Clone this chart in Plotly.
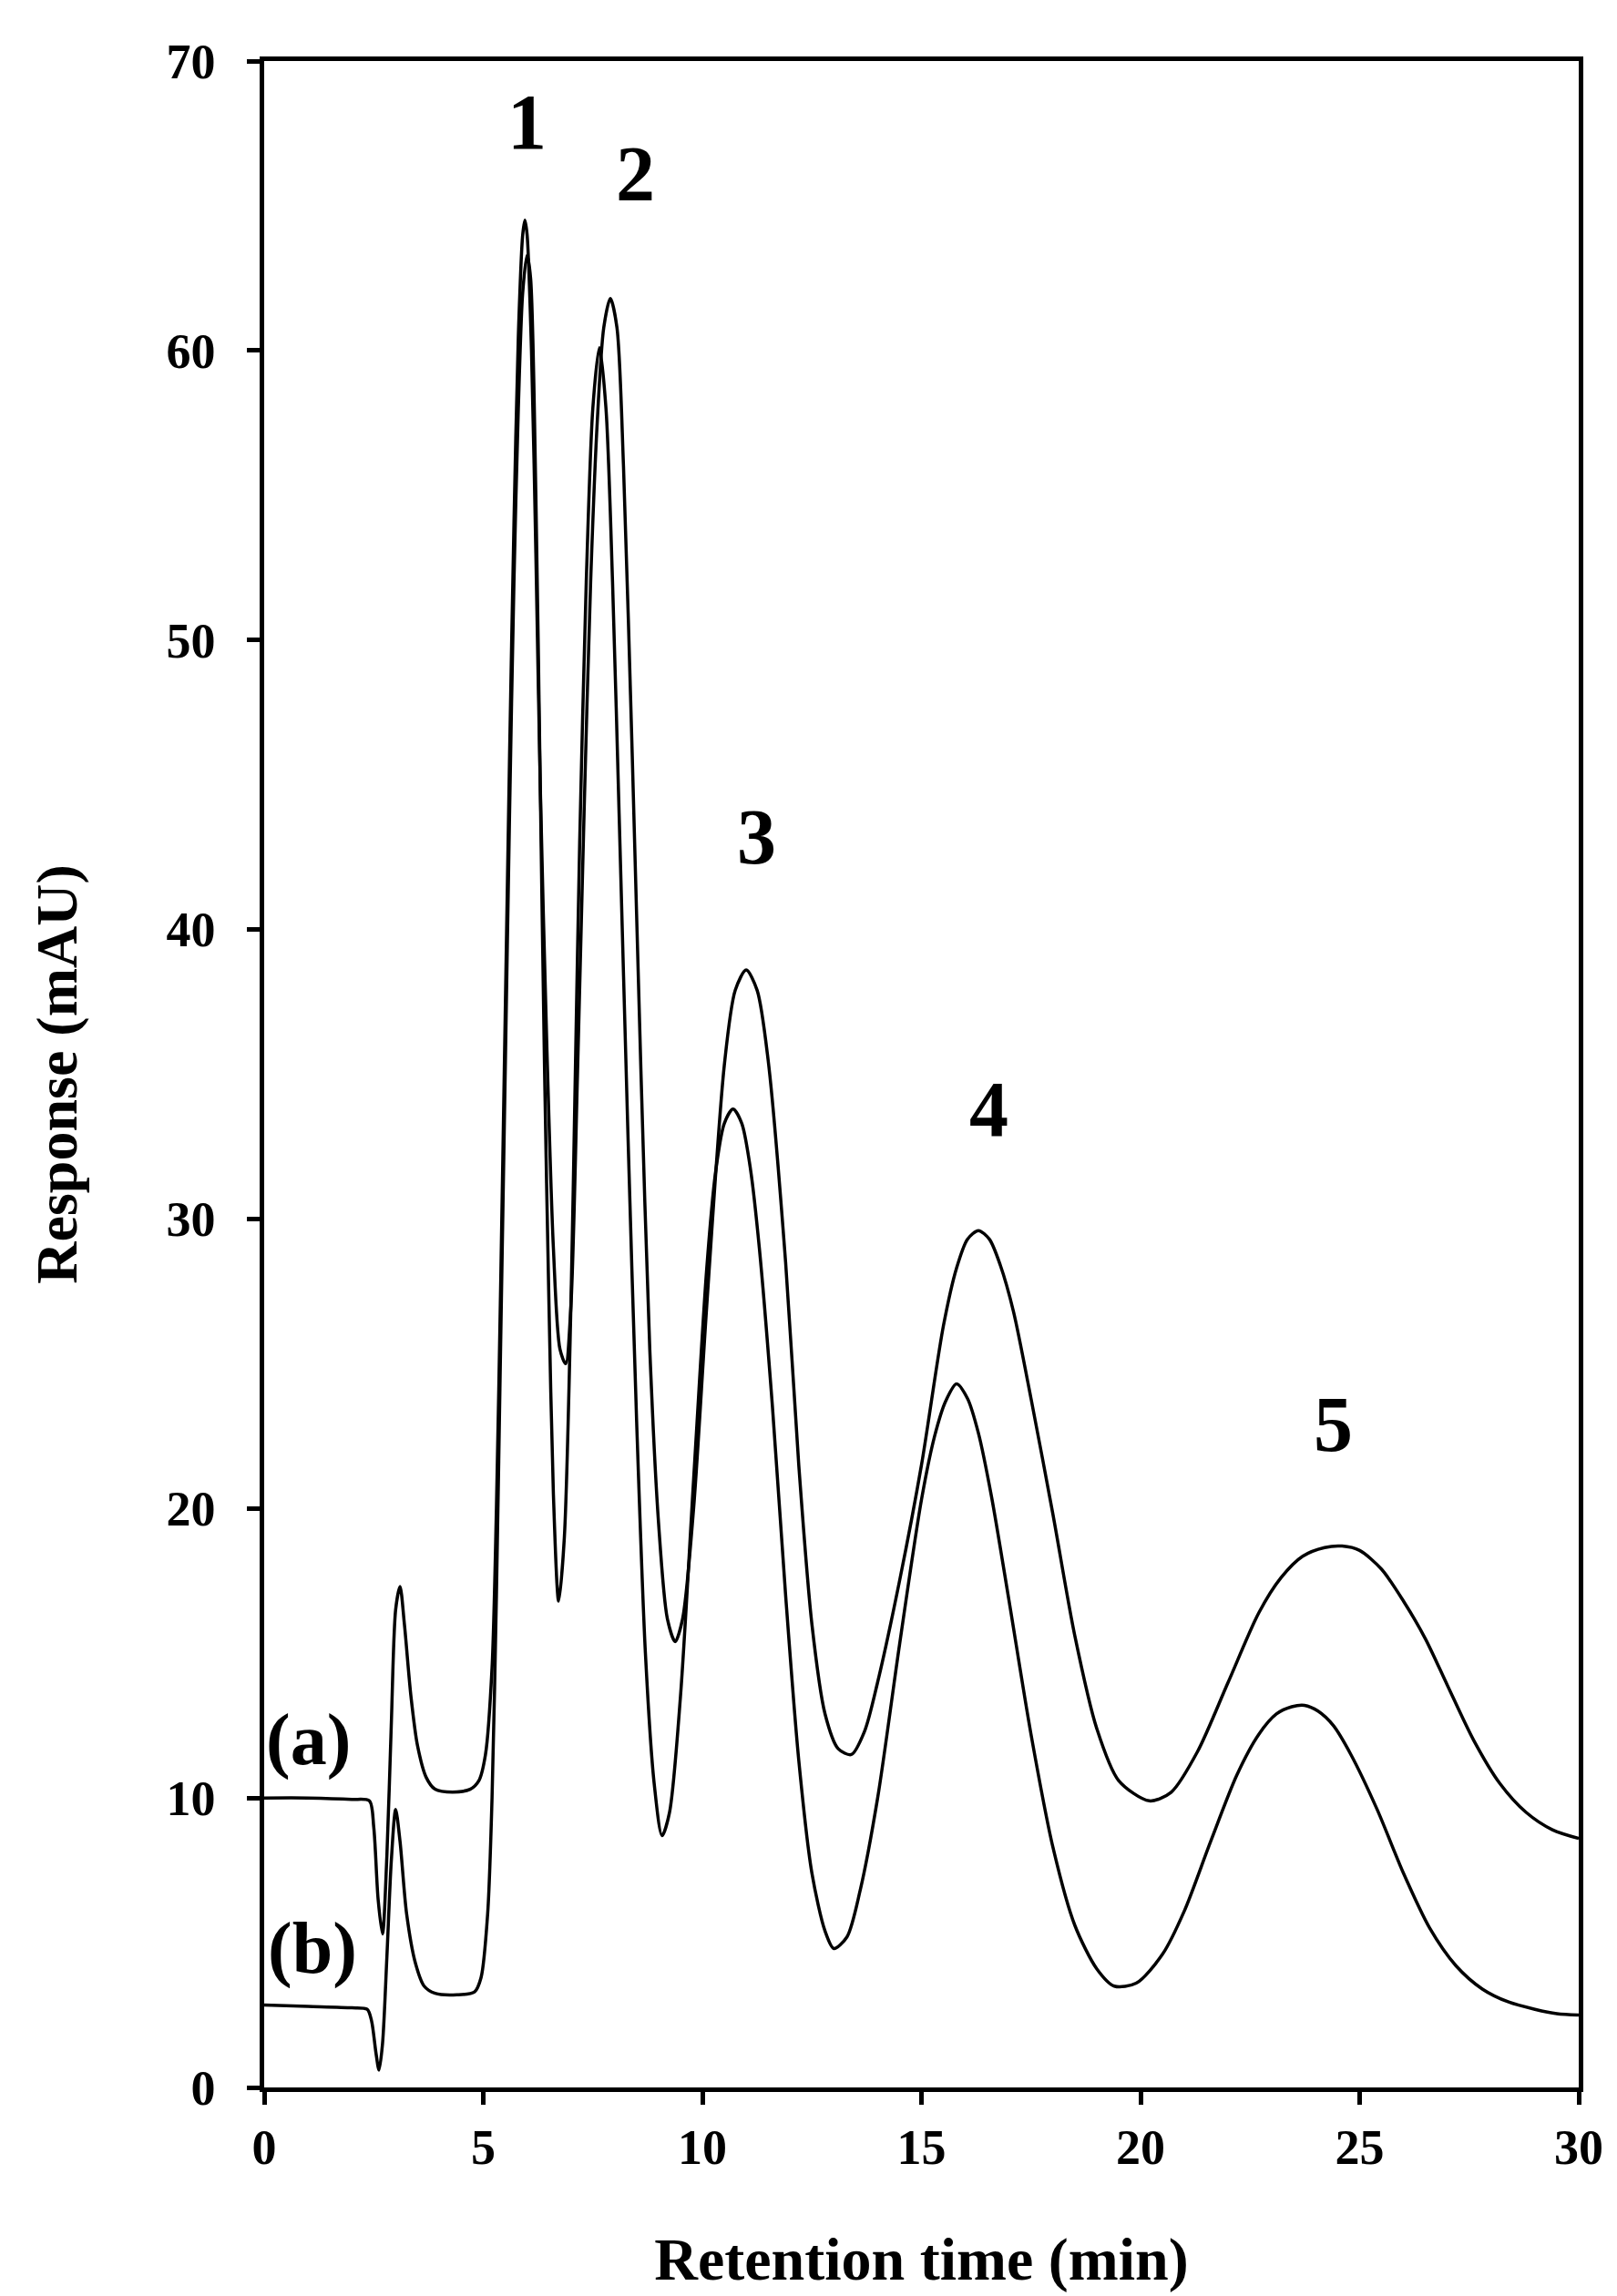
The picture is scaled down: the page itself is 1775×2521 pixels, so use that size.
import plotly.graph_objects as go

# Curve (a)
time_a = [0.0, 1.0, 2.0, 2.4, 2.5, 2.6, 2.7, 2.8, 2.9, 3.0, 3.1, 3.2, 3.35, 3.5, 3.7, 3.9, 4.3, 4.7, 4.9,
          5.05, 5.2, 5.3, 5.4, 5.5, 5.6, 5.7, 5.8, 5.9, 5.95, 6.0, 6.1, 6.2, 6.3, 6.45, 6.6, 6.75, 6.88,
          7.0, 7.15, 7.3, 7.45, 7.6, 7.75, 7.9, 8.05, 8.2, 8.4, 8.6, 8.8, 9.0, 9.2, 9.38, 9.55, 9.8,
          10.1, 10.5, 10.75, 11.0, 11.25, 11.5, 11.9, 12.2, 12.5, 12.8, 13.1, 13.4, 13.7, 14.0, 14.5,
          15.0, 15.5, 15.8, 16.05, 16.3, 16.55, 16.8, 17.1, 17.5, 18.0, 18.5, 19.0, 19.5, 20.2, 20.7,
          21.3, 22.0, 22.7, 23.2, 23.7, 24.2, 24.6, 25.0, 25.5, 26.0, 26.5, 27.0, 27.6, 28.2, 28.8,
          29.4, 30.0]
resp_a = [10.0, 10.0, 9.95, 9.9, 9.0, 6.5, 5.3, 8.0, 12.5, 16.5, 17.3, 16.0, 13.5, 11.8, 10.7, 10.3, 10.2, 10.3, 10.6,
          11.5, 14.5, 20.0, 28.0, 37.0, 46.0, 54.0, 60.5, 64.0, 64.5, 64.0, 60.0, 53.0, 45.0, 36.0, 29.0, 25.5, 25.0,
          27.0, 35.0, 44.0, 52.0, 57.5, 60.8, 61.8, 60.8, 56.0, 46.0, 35.0, 25.5, 19.5, 16.2, 15.4, 16.2, 20.0,
          27.0, 35.3, 37.9, 38.6, 37.9, 35.5, 28.5, 21.5, 16.0, 12.9, 11.7, 11.5, 12.3, 14.0, 17.5,
          21.5, 26.3, 28.3, 29.3, 29.6, 29.3, 28.4, 26.8, 23.8, 19.8, 15.6, 12.4, 10.6, 9.9, 10.2,
          11.6, 14.0, 16.4, 17.6, 18.35, 18.65, 18.7, 18.55, 17.9, 16.8, 15.5, 13.9, 12.0, 10.5, 9.5,
          8.9, 8.6]

# Curve (b)
time_b = [0.0, 1.0, 2.0, 2.35, 2.45, 2.55, 2.62, 2.7, 2.8, 2.9, 3.0, 3.1, 3.25, 3.45, 3.65, 3.9, 4.4, 4.8, 4.95,
          5.1, 5.2, 5.3, 5.4, 5.5, 5.6, 5.7, 5.8, 5.9, 6.0, 6.08, 6.2, 6.3, 6.4, 6.5, 6.6, 6.72, 6.85,
          7.0, 7.1, 7.2, 7.35, 7.5, 7.65, 7.8, 7.95, 8.1, 8.3, 8.5, 8.7, 8.9, 9.08, 9.25, 9.5, 9.8,
          10.1, 10.3, 10.5, 10.7, 10.9, 11.1, 11.3, 11.6, 11.9, 12.2, 12.5, 12.8, 13.0, 13.3, 13.6, 14.0,
          14.5, 15.0, 15.3, 15.55, 15.8, 16.05, 16.3, 16.6, 17.0, 17.5, 18.0, 18.5, 19.0, 19.4, 19.9,
          20.5, 21.0, 21.6, 22.2, 22.7, 23.1, 23.45, 23.74, 24.05, 24.4, 24.8, 25.4, 26.0, 26.6, 27.2,
          27.8, 28.4, 29.0, 29.5, 30.0]
resp_b = [2.85, 2.8, 2.75, 2.7, 2.3, 1.2, 0.6, 1.5, 4.5, 7.8, 9.6, 8.5, 6.0, 4.3, 3.5, 3.25, 3.2, 3.3, 3.8,
          6.0, 10.0, 17.0, 26.0, 35.0, 44.0, 52.0, 58.0, 62.0, 63.3, 62.5, 55.0, 45.0, 35.0, 27.0, 20.5, 16.8, 19.0,
          27.0, 35.0, 43.0, 52.0, 58.0, 60.1, 58.0, 52.0, 44.0, 33.0, 23.0, 15.0, 10.5, 8.7, 9.5, 13.5, 21.0,
          28.3, 31.6, 33.3, 33.8, 33.3, 31.7, 29.0, 23.5, 17.0, 11.3, 7.4, 5.4, 4.8, 5.2, 6.8, 10.0,
          15.3, 20.3, 22.5, 23.7, 24.3, 23.8, 22.6, 20.4, 16.8, 12.2, 8.3, 5.6, 4.1, 3.5, 3.6,
          4.6, 6.1, 8.5, 10.8, 12.2, 12.9, 13.15, 13.2, 13.0, 12.5, 11.5, 9.6, 7.4, 5.5, 4.2,
          3.4, 2.95, 2.7, 2.55, 2.5]

peak_labels = ["1", "2", "3", "4", "5"]
peak_label_x = [5.99, 8.48, 11.24, 16.53, 24.4]
peak_label_y = [67.9, 66.1, 43.2, 33.8, 22.9]

trace_labels = ["(a)", "(b)"]
trace_label_x = [1.0, 1.1]
trace_label_y = [12.0, 4.8]

x_ticks = [0, 5, 10, 15, 20, 25, 30]
y_ticks = [0, 10, 20, 30, 40, 50, 60, 70]

FONT = "Liberation Serif, Times New Roman, serif"

fig = go.Figure()
fig.add_trace(go.Scatter(x=time_a, y=resp_a, mode="lines",
                         line=dict(color="black", width=3.5, shape="spline", smoothing=0.8),
                         showlegend=False))
fig.add_trace(go.Scatter(x=time_b, y=resp_b, mode="lines",
                         line=dict(color="black", width=3.5, shape="spline", smoothing=0.8),
                         showlegend=False))

for t, x, y in zip(peak_labels, peak_label_x, peak_label_y):
    fig.add_annotation(x=x, y=y, text=t, showarrow=False,
                       font=dict(family=FONT, size=86, color="black", weight="bold"))
for t, x, y in zip(trace_labels, trace_label_x, trace_label_y):
    fig.add_annotation(x=x, y=y, text=t, showarrow=False,
                       font=dict(family=FONT, size=80, color="black", weight="bold"))

axis_common = dict(showgrid=False, zeroline=False, showline=True, linecolor="black", linewidth=4.5,
                   mirror=True, ticks="outside", ticklen=14, tickwidth=4.5, tickcolor="black",
                   tickfont=dict(family=FONT, size=54, color="black", weight="bold"))

fig.update_xaxes(range=[0, 30], tickvals=x_ticks, ticktext=[str(v) for v in x_ticks],
                 title=dict(text="Retention time (min)", standoff=72,
                            font=dict(family=FONT, size=66, color="black", weight="bold")),
                 **axis_common)
fig.update_yaxes(range=[0, 70], tickvals=y_ticks, ticktext=[str(v) for v in y_ticks],
                 ticklabelstandoff=24,
                 title=dict(text="Response (mAU)", standoff=79,
                            font=dict(family=FONT, size=64, color="black", weight="bold")),
                 **axis_common)

fig.update_layout(width=1775, height=2521, plot_bgcolor="white", paper_bgcolor="white",
                  margin=dict(l=282, r=50, t=59, b=237, autoexpand=False))

fig.write_html("out.html")
